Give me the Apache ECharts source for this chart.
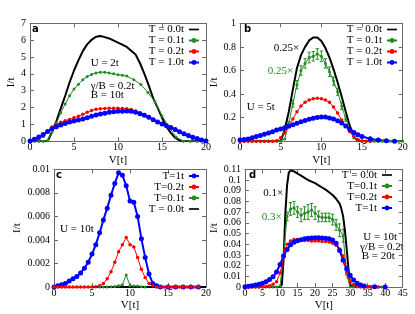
<!DOCTYPE html>
<html><head><meta charset="utf-8">
<script src="https://cdn.jsdelivr.net/npm/echarts/dist/echarts.min.js"></script>
<style>html,body{margin:0;padding:0;background:#fff}#c{width:415px;height:314px}</style>
</head><body><div id="c"></div><script>
// ---------- Panel a (U = 2t) ----------
const aX_T00 = [0,1,2,2.5,3,3.5,4,4.5,5,5.5,6,6.5,7,7.5,8,8.5,9,10,11,12,12.5,13,13.5,14,14.5,15,15.5,16,16.5,17,17.5,18,19,20];
const aY_T00 = [0,0,0,0.55,1.2,1.95,2.7,3.5,4.2,4.8,5.35,5.75,6.02,6.2,6.25,6.18,6.1,5.85,5.6,5.15,4.63,4.0,3.3,2.55,2.0,1.4,0.87,0.5,0.2,0.05,0,0,0,0];
const aX_T01 = [0,0.5,1,1.5,2,2.5,3,3.5,4,4.5,5,5.5,6,6.5,7,7.5,8,8.5,9,9.5,10,10.5,11,11.8,12.6,13.4,14.2,15,15.8,16.6,17.4,18.2,19,19.8];
const aY_T01 = [0,0,0,0,0.05,0.55,1.08,1.7,2.22,2.7,3.1,3.38,3.65,3.85,3.97,4.05,4.1,4.1,4.05,4.0,3.95,3.92,3.87,3.65,3.37,2.9,2.35,1.5,0.85,0.25,0.01,0,0,0];
const aX_half = [0,0.5,1,1.5,2,2.5,3,3.5,4,4.5,5,5.5,6,6.5,7,7.5,8,8.5,9,9.5,10,10.5,11,11.5,12,12.5,13,13.5,14,14.5,15,15.5,16,16.5,17,17.5,18,18.5,19,19.5,20];
const aY_T02 = [0,0.06,0.15,0.3,0.55,0.85,1.0,1.13,1.22,1.3,1.4,1.48,1.6,1.72,1.83,1.9,1.93,1.95,1.96,1.96,1.96,1.95,1.93,1.88,1.8,1.7,1.58,1.45,1.3,1.17,1.04,0.92,0.8,0.66,0.52,0.4,0.28,0.18,0.1,0.04,0];
const aY_T10 = [0.02,0.12,0.25,0.4,0.58,0.75,0.87,0.97,1.06,1.14,1.21,1.27,1.33,1.4,1.48,1.56,1.62,1.67,1.72,1.75,1.78,1.79,1.8,1.78,1.72,1.64,1.54,1.42,1.28,1.15,1.03,0.92,0.82,0.7,0.57,0.45,0.34,0.24,0.16,0.08,0.02];

// ---------- Panel b (U = 5t) ----------
const bX_T00 = [0,1,2,3,4,5,5.5,6,6.5,7,7.5,8,8.5,9,9.5,10,10.5,11,11.5,12,12.5,13,13.5,14,14.5,15,16,17,18,19,20];
const bY_T00 = [0,0,0,0,0,0,0.1,0.25,0.44,0.62,0.73,0.8,0.855,0.88,0.88,0.85,0.79,0.71,0.61,0.5,0.38,0.25,0.13,0.04,0,0,0,0,0,0,0];
const bX_T01 = [0,0.5,1,1.5,2,2.5,3,3.5,4,4.5,5,5.5,6,6.5,7,7.5,8,8.5,9,9.5,10,10.5,11,11.5,12,12.5,13,13.5,14,14.5,15,15.5,16,16.5,17,17.5,18,18.5,19,19.5,20];
const bY_T01 = [0,0,0,0,0,0,0,0,0,0,0,0.02,0.15,0.32,0.48,0.6,0.66,0.71,0.72,0.74,0.72,0.66,0.59,0.51,0.42,0.3,0.19,0.1,0.03,0.005,0,0,0,0,0,0,0,0,0,0,0];
const bE_T01 = [0,0,0,0,0,0,0,0,0,0,0,0,0.02,0.03,0.035,0.04,0.04,0.045,0.04,0.045,0.045,0.04,0.04,0.035,0.03,0.03,0.02,0.01,0,0,0,0,0,0,0,0,0,0,0,0,0];
const bX_T02 = [0,0.5,1,1.5,2,2.5,3,3.5,4,4.5,5,5.5,6,6.5,7,7.5,8,8.5,9,9.5,10,10.5,11,11.5,12,12.5,13,13.5,14,14.5,15,15.5,16];
const bY_T02 = [0,0,0,0,0,0,0,0,0,0.005,0.03,0.07,0.13,0.19,0.25,0.3,0.33,0.35,0.36,0.365,0.36,0.35,0.33,0.29,0.24,0.18,0.13,0.08,0.04,0.015,0.003,0,0];
const bX_T10 = [0,0.5,1,1.5,2,2.5,3,3.5,4,4.5,5,5.5,6,6.5,7,7.5,8,8.5,9,9.5,10,10.5,11,11.5,12,12.5,13,13.5,14,14.5,15,16,17,18,19];
const bY_T10 = [0.01,0.015,0.02,0.03,0.04,0.05,0.06,0.07,0.08,0.095,0.105,0.115,0.128,0.14,0.152,0.165,0.176,0.187,0.196,0.202,0.205,0.206,0.198,0.188,0.175,0.155,0.13,0.1,0.075,0.055,0.04,0.022,0.01,0.004,0.001];

// ---------- Panel c (U = 10t) ----------
const cX_T1 = [0,0.5,1,1.5,2,2.5,3,3.5,4,4.5,5,5.5,6,6.5,7,7.5,8,8.5,9,9.5,10,10.5,11,11.5,12,12.5,13,13.5,14,15,16,17,18,19];
const cY_T1 = [0,0.0001,0.0002,0.0003,0.0005,0.0007,0.0009,0.0012,0.0016,0.0021,0.0028,0.0036,0.0046,0.0057,0.0067,0.0078,0.0088,0.0097,0.0095,0.0086,0.0073,0.0072,0.006,0.0041,0.0025,0.0011,0.0003,0.0001,0,0,0,0,0,0];
const cX_T02 = [0,0.5,1,1.5,2,2.5,3,3.5,4,4.5,5,5.5,6,6.5,7,7.5,8,8.5,9,9.5,10,10.5,11,11.5,12,12.5,13,13.5,14,14.5,15,15.5,16,16.5,17,17.5,18,18.5,19];
const cY_T02 = [0,0,0,0,0,0,0,0,0,0,0,0.00003,0.0001,0.0003,0.0007,0.0013,0.0021,0.003,0.0036,0.0042,0.0036,0.0034,0.0025,0.0015,0.0008,0.0003,0.0001,0,0,0,0,0,0,0,0,0,0,0,0];
const cX_T01 = [6,6.5,7,7.5,8,8.5,9,9.5,10,10.5,11,11.5,12];
const cY_T01 = [0,0,0,0.00002,0.00005,0.0001,0.0002,0.00102,0.0001,0.00008,0.00008,0.00003,0];
const cX_T00 = [5,10,15,20];
const cY_T00 = [0,0,0,0];

// ---------- Panel d (U = 10t, B = 20t) ----------
const dX_T00 = [0,5,10,10.5,11,11.5,12,12.5,13,14,15,16,17,18,19,20,21,22,23,24,25,26,27,27.5,28,28.5,29,29.5,30,31,35,40];
const dY_T00 = [0,0,0,0.002,0.025,0.068,0.095,0.107,0.109,0.108,0.106,0.104,0.102,0.1,0.0985,0.097,0.095,0.093,0.091,0.0885,0.086,0.0825,0.078,0.073,0.066,0.053,0.036,0.018,0.002,0,0,0];
const dX_T01 = [0,1,2,3,4,5,6,7,8,9,10,11,12,13,14,15,16,17,18,19,20,21,22,23,24,25,26,27,28,29,30,31,32,33,34,35,36,37,38,39,40];
const dY_T01 = [0,0,0,0,0,0,0,0,0,0,0.001,0.03,0.066,0.073,0.074,0.07,0.067,0.069,0.07,0.072,0.069,0.066,0.065,0.065,0.065,0.063,0.058,0.053,0.048,0.012,0,0,0,0,0,0,0,0,0,0,0];
const dE_T01 = [0,0,0,0,0,0,0,0,0,0,0,0,0.004,0.006,0.006,0.005,0.006,0.006,0.007,0.006,0.006,0.005,0.004,0.004,0.004,0.005,0.005,0.006,0.006,0,0,0,0,0,0,0,0,0,0,0,0];
const dX_T02 = [0,1,2,3,4,5,6,7,8,9,10,10.5,11,11.5,12,13,14,15,16,17,18,19,20,21,22,23,24,25,26,27,28,28.5,29,29.5,30,31,32,33,34,35,36,37,38];
const dY_T02 = [0,0,0,0,0,0.0002,0.0006,0.0012,0.0025,0.005,0.013,0.02,0.028,0.035,0.04,0.043,0.0445,0.0445,0.044,0.0435,0.0435,0.043,0.043,0.043,0.0425,0.0425,0.042,0.041,0.039,0.0355,0.029,0.022,0.014,0.009,0.005,0.002,0.001,0.0003,0,0,0,0,0];
const dX_T1 = [0,1,2,3,4,5,6,7,8,9,10,11,12,13,14,15,16,17,18,19,20,21,22,23,24,25,26,27,28,29,30,31,32,33,34,37,40];
const dY_T1 = [0.0003,0.0006,0.0012,0.0018,0.0025,0.0035,0.005,0.007,0.0095,0.014,0.021,0.029,0.035,0.0395,0.0418,0.0432,0.0442,0.045,0.0455,0.0458,0.046,0.046,0.0458,0.0455,0.045,0.044,0.041,0.034,0.025,0.017,0.011,0.0065,0.0035,0.0018,0.0009,0.0002,0];

// ---------- Legend labels ----------
const legA = ['T = 0.0t','T = 0.1t','T = 0.2t','T = 1.0t'];
const legC = ['T=1t','T=0.2t','T=0.1t','T = 0.0t'];
const legD = ['T = 0.0t','T=0.1t','T=0.2t','T=1t'];

const FONT = '"Liberation Serif","Times New Roman",serif';
const BLACK = '#000000', GREEN = '#228b22', RED = '#ff0000', BLUE = '#0000ff';
const FRAME = '#6a6a6a';

const grids = [
  {left:30, top:23.3, width:176, height:118},
  {left:240, top:23.3, width:162.7, height:118},
  {left:54, top:169.3, width:152, height:117.7},
  {left:245, top:169.3, width:157.7, height:117.7}
].map(g => Object.assign(g, {containLabel:false, outerBoundsMode:'none'}));

const xr = [[0,20,5],[0,20,5],[0,20,5],[0,45,5]];
const yr = [[0,7,1],[0,1,0.2],[0,0.01,0.002],[0,0.11,0.01]];
const yNameGap = [12, 17, 31, 22];

const xAxis = [], yAxis = [];
for (let i = 0; i < 4; i++) {
  xAxis.push({type:'value', gridIndex:i, min:xr[i][0], max:xr[i][1], interval:xr[i][2], position:'bottom',
    axisLine:{show:true, onZero:false, lineStyle:{color:FRAME, width:1}},
    axisTick:{show:true, inside:true, length:4, lineStyle:{color:FRAME}},
    axisLabel:{show:true, margin:1, color:'#000', fontFamily:FONT, fontSize:10, showMinLabel:true, showMaxLabel:true},
    splitLine:{show:false}, name:'V[t]', nameLocation:'middle', nameGap:13,
    nameTextStyle:{color:'#000', fontFamily:FONT, fontSize:11}});
  yAxis.push({type:'value', gridIndex:i, min:yr[i][0], max:yr[i][1], interval:yr[i][2], position:'left',
    axisLine:{show:true, onZero:false, lineStyle:{color:FRAME, width:1}},
    axisTick:{show:true, inside:true, length:4, lineStyle:{color:FRAME}},
    axisLabel:{show:true, margin:4, color:'#000', fontFamily:FONT, fontSize:10, showMinLabel:true, showMaxLabel:true, hideOverlap:false},
    splitLine:{show:false}, name:'I/t', nameLocation:'middle', nameGap:yNameGap[i], nameRotate:90,
    nameTextStyle:{color:'#000', fontFamily:FONT, fontSize:11}});
}
for (let i = 0; i < 4; i++) {
  xAxis.push({type:'value', gridIndex:i, min:xr[i][0], max:xr[i][1], interval:xr[i][2], position:'top',
    axisLine:{show:true, onZero:false, lineStyle:{color:FRAME, width:1}},
    axisTick:{show:true, inside:true, length:4, lineStyle:{color:FRAME}},
    axisLabel:{show:false}, splitLine:{show:false}});
  yAxis.push({type:'value', gridIndex:i, min:yr[i][0], max:yr[i][1], interval:yr[i][2], position:'right',
    axisLine:{show:true, onZero:false, lineStyle:{color:FRAME, width:1}},
    axisTick:{show:true, inside:true, length:4, lineStyle:{color:FRAME}},
    axisLabel:{show:false}, splitLine:{show:false}});
}

function zip(xs, ys) { return xs.map((x, i) => [x, ys[i]]); }
function line(gi, name, xs, ys, color, lw, sym, size) {
  return {type:'line', name, xAxisIndex:gi, yAxisIndex:gi, data:zip(xs, ys),
    symbol: sym || 'none', symbolSize: size || 0, showSymbol: !!sym, showAllSymbol:true,
    lineStyle:{color, width:lw}, itemStyle:{color}, animation:false, silent:true, clip:true,
    emphasis:{disabled:true}};
}
function errBars(gi, xs, ys, es, color) {
  const data = [];
  xs.forEach((x, i) => { if (es[i] > 0) data.push([x, ys[i], es[i]]); });
  return {type:'custom', xAxisIndex:gi, yAxisIndex:gi, data, encode:{x:0, y:1}, silent:true, animation:false, clip:true,
    renderItem: (params, api) => {
      const x = api.value(0), y = api.value(1), e = api.value(2);
      const lo = api.coord([x, y - e]), hi = api.coord([x, y + e]);
      const c = 1.6, st = {stroke:color, lineWidth:1};
      return {type:'group', children:[
        {type:'line', shape:{x1:lo[0], y1:lo[1], x2:hi[0], y2:hi[1]}, style:st},
        {type:'line', shape:{x1:lo[0]-c, y1:lo[1], x2:lo[0]+c, y2:lo[1]}, style:st},
        {type:'line', shape:{x1:hi[0]-c, y1:hi[1], x2:hi[0]+c, y2:hi[1]}, style:st}
      ]};
    }};
}

const series = [
  line(0, legA[0], aX_T00, aY_T00, BLACK, 2),
  line(0, legA[1], aX_T01, aY_T01, GREEN, 1, 'circle', 3),
  line(0, legA[2], aX_half, aY_T02, RED, 1, 'circle', 3.5),
  line(0, legA[3], aX_half, aY_T10, BLUE, 2, 'circle', 5),

  line(1, legA[0], bX_T00, bY_T00, BLACK, 2),
  errBars(1, bX_T01, bY_T01, bE_T01, GREEN),
  line(1, legA[1], bX_T01, bY_T01, GREEN, 1, 'circle', 3),
  line(1, legA[2], bX_T02, bY_T02, RED, 1, 'circle', 3.5),
  line(1, legA[3], bX_T10, bY_T10, BLUE, 2, 'circle', 5),

  line(2, legC[0], cX_T1, cY_T1, BLUE, 2, 'circle', 5),
  line(2, legC[1], cX_T02, cY_T02, RED, 1, 'circle', 3.5),
  line(2, legC[2], cX_T01, cY_T01, GREEN, 1, 'circle', 3),
  line(2, legC[3], cX_T00, cY_T00, BLACK, 2),

  line(3, legD[0], dX_T00, dY_T00, BLACK, 2),
  errBars(3, dX_T01, dY_T01, dE_T01, GREEN),
  line(3, legD[1], dX_T01, dY_T01, GREEN, 1, 'circle', 3),
  line(3, legD[2], dX_T02, dY_T02, RED, 1, 'circle', 3.5),
  line(3, legD[3], dX_T1, dY_T1, BLUE, 2, 'circle', 5)
];

const BAR_ICON = 'path://M0,0L12,0L12,2L0,2Z';
function legend(names, right, top) {
  return {orient:'vertical', align:'right', right, top, padding:0, itemWidth:10, itemHeight:6, itemGap:0,
    selectedMode:false, textStyle:{fontFamily:FONT, fontSize:11, lineHeight:11, color:'#000'},
    data: names.map(n => n.indexOf('0.0') >= 0 ? {name:n, icon:BAR_ICON} : {name:n})};
}

function txt(x, y, text, color, align, font) {
  return {type:'text', x, y, silent:true, style:{text, fill:color || '#000', align:align || 'left', verticalAlign:'middle',
    font: font || ('11px ' + FONT)}};
}
const LETTER = 'bold 10px "DejaVu Sans",sans-serif';

const option = {
  animation:false,
  backgroundColor:'#ffffff',
  grid: grids, xAxis, yAxis, series,
  legend: [legend(legA, 215, 24), legend(legA, 17, 24), legend(legC, 215, 170.5), legend(legD, 22, 169.5)],
  graphic: [
    txt(32, 29, 'a', '#000', 'left', LETTER),
    txt(244, 29, 'b', '#000', 'left', LETTER),
    txt(56, 175, 'c', '#000', 'left', LETTER),
    txt(249, 175, 'd', '#000', 'left', LETTER),
    txt(90.7, 63, 'U = 2t'),
    txt(90.7, 86, 'γ/B = 0.2t'),
    txt(90.7, 95, 'B = 10t'),
    txt(299.3, 47.7, '0.25×', BLACK, 'right'),
    txt(293.3, 71, '0.25×', GREEN, 'right'),
    txt(246.7, 106.7, 'U = 5t'),
    txt(60, 229, 'U = 10t'),
    txt(283.3, 193.3, '0.1×', BLACK, 'right'),
    txt(281.7, 216.7, '0.3×', GREEN, 'right'),
    txt(363.3, 237.5, 'U = 10t'),
    txt(360, 247, 'γ/B = 0.2t'),
    txt(361.7, 256, 'B = 20t')
  ]
};
const chart = echarts.init(document.getElementById('c'), null, {renderer:'canvas'});
chart.setOption(option);
</script></body></html>
